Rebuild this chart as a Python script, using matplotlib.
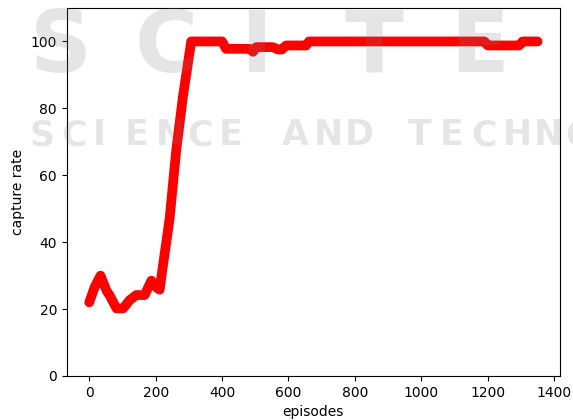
import matplotlib
# backend non-interactif
matplotlib.use("Agg")
import matplotlib.pyplot as plt

# Points (episode, taux de capture en %)
episodes = [0, 16, 34, 52, 62, 82, 102, 122, 142, 167, 187, 202, 212,
            222, 232, 242, 262, 282, 307, 400, 412, 483, 493, 503, 553,
            568, 580, 593, 653, 662, 1190, 1200, 1295, 1305, 1350]
capture_rate = [22, 26.5, 30, 25.5, 24, 20.2, 20.2, 22.7, 24.2, 24.2, 28.5, 26.5, 25.8,
                33, 40, 47, 67.5, 83.4, 100, 100, 97.8, 97.8, 96.9, 98.3, 98.3,
                97.6, 97.6, 98.8, 98.8, 100, 100, 98.8, 98.8, 100, 100]

# Filigrane de l'editeur (texte gris clair)
filigrane_haut = "SCITE"
filigrane_bas = "SCIENCE AND TECHNOLOGY"

fig = plt.figure(figsize=(5.73, 4.2), dpi=100)
ax = fig.add_axes([0.1166, 0.1048, 0.8607, 0.8762])

ax.plot(episodes, capture_rate, color="red", linewidth=7,
        solid_capstyle="round", solid_joinstyle="round")
ax.set_ylim(0, 110)
ax.set_xlabel("episodes")
ax.set_ylabel("capture rate")

# Filigrane par-dessus, en gris transparent, lettre par lettre
for i, lettre in enumerate(filigrane_haut):
    fig.text((30 + i * 105) / 573, 1 - 72 / 420, lettre, fontsize=62,
             fontweight="bold", color="gray", alpha=0.2)
for i, lettre in enumerate(filigrane_bas):
    fig.text((30 + i * 31.5) / 573, 1 - 145 / 420, lettre, fontsize=25,
             fontweight="bold", color="gray", alpha=0.2)

fig.savefig("out.png")
plt.close(fig)
